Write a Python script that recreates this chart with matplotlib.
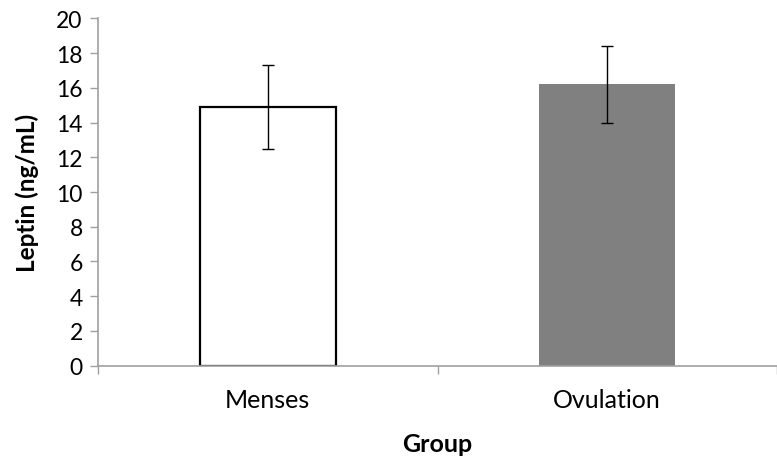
import matplotlib
matplotlib.use('Agg')
import matplotlib.pyplot as plt

groups = ['Menses', 'Ovulation']
leptin = [14.9, 16.2]
leptin_err = [2.4, 2.2]
fill_colors = ['white', '#808080']
edge_colors = ['black', '#808080']

plt.rcParams['font.family'] = ['Lato', 'DejaVu Sans']

fig = plt.figure(figsize=(7.77, 4.6), dpi=100)
ax = fig.add_axes([98 / 777, 1 - 366.7 / 460, 1 - 98 / 777, (366.7 - 19.3) / 460])

x = list(range(len(groups)))
ax.bar(x, leptin, width=0.4, color=fill_colors, edgecolor=edge_colors,
       linewidth=[1.6, 0], zorder=2)
ax.errorbar(x, leptin, yerr=leptin_err, fmt='none', ecolor='black',
            elinewidth=1, capsize=4.5, capthick=1, zorder=3)

ax.set_ylim(0, 20)
ax.set_xlim(-0.5, 1.474)
ax.set_yticks(range(0, 21, 2))

# boundary ticks as major, labels on minor ticks at centres
ax.set_xticks([-0.5, 0.5, 1.5])
ax.set_xticklabels([])
ax.set_xticks(x, minor=True)
ax.set_xticklabels(groups, minor=True)
ax.tick_params(axis='x', which='minor', length=0, pad=16, labelsize=18)
ax.tick_params(axis='x', which='major', length=6, color='#a0a0a0', width=1)
ax.tick_params(axis='y', length=6, color='#a0a0a0', width=1, labelsize=16.5, pad=5)

for s in ['top', 'right']:
    ax.spines[s].set_visible(False)
for s in ['left', 'bottom']:
    ax.spines[s].set_color('#a0a0a0')
    ax.spines[s].set_linewidth(1.2)

ax.set_ylabel('Leptin (ng/mL)', fontsize=17.5, fontweight='bold', labelpad=12)
ax.set_xlabel('Group', fontsize=18, fontweight='bold', labelpad=15)

fig.savefig('out.png', dpi=100)
